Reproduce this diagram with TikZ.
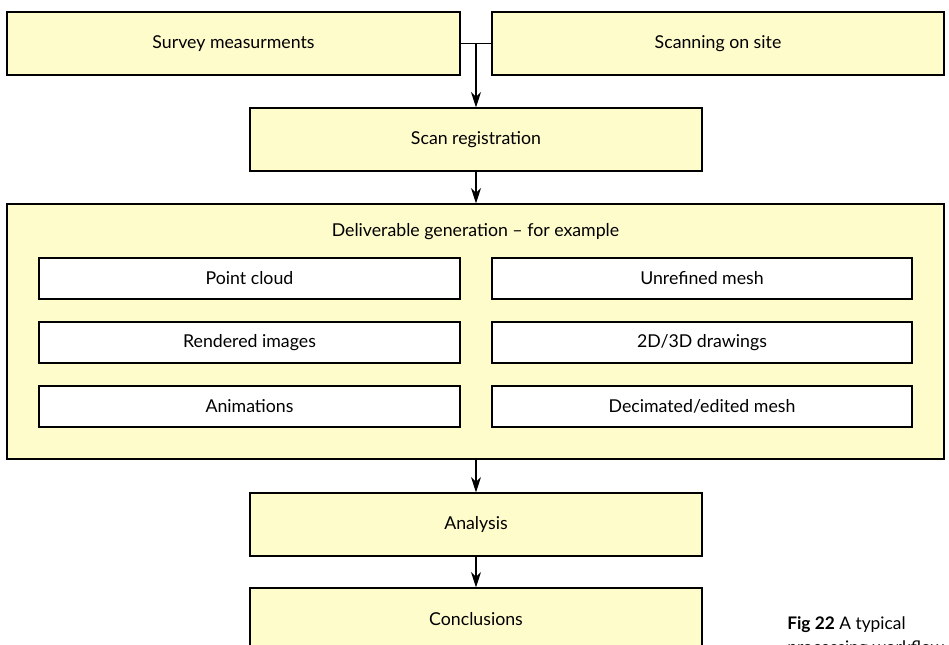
\documentclass[tikz,border=0pt]{standalone}
\usepackage{fontspec}
\setmainfont{Lato}
\usepackage{tikz}
\usetikzlibrary{calc,arrows.meta}

\definecolor{paleyellow}{RGB}{255,252,204}

\tikzset{
	stagebox/.style={draw=black, line width=0.9pt, fill=paleyellow, minimum height=47.25pt, inner sep=0pt, font=\fontsize{13.3}{16}\selectfont},
	itembox/.style={draw=black, line width=0.9pt, fill=white, minimum height=30.75pt, inner sep=0pt, font=\fontsize{13.3}{16}\selectfont},
	flow/.style={line width=0.9pt, -{Stealth[length=11.5pt, width=7.5pt, inset=3.5pt]}}
}

\begin{document}
\begin{tikzpicture}[x=0.75pt, y=-0.75pt]
			\useasboundingbox (0,0) rectangle (949,644);
			\clip (0,0) rectangle (949,644);
			%draw top row
			\node[stagebox, minimum width=339.75pt] (survey) at (233.5,43.5) {Survey measurments};
			\node[stagebox, minimum width=339pt] (scanning) at (718,43.5) {Scanning on site};
			\node[stagebox, minimum width=339pt] (registration) at (476,139.5) {Scan registration};
			%draw deliverables box
			\node[stagebox, minimum width=702.75pt, minimum height=191.25pt] (deliverable) at (475.5,331.5) {};
			\node[font=\fontsize{13.3}{16}\selectfont] (delivtitle) at (475.5,232) {Deliverable generation -- for example};
			\node[itembox, minimum width=315.75pt] (pointcloud) at (249.5,278.5) {Point cloud};
			\node[itembox, minimum width=315pt] (mesh) at (702,278.5) {Unrefined mesh};
			\node[itembox, minimum width=315.75pt] (rendered) at (249.5,342.5) {Rendered images};
			\node[itembox, minimum width=315pt] (drawings) at (702,342.5) {2D/3D drawings};
			\node[itembox, minimum width=315.75pt] (animations) at (249.5,406.5) {Animations};
			\node[itembox, minimum width=315pt] (decimated) at (702,406.5) {Decimated/edited mesh};
			%draw bottom row
			\node[stagebox, minimum width=339pt] (analysis) at (476,524.5) {Analysis};
			\node[stagebox, minimum width=339pt] (conclusions) at (476,619.5) {Conclusions};
			%draw connectors
			\coordinate (join) at (registration.north |- survey.east);
			\draw[line width=0.9pt] (survey.east) -- (scanning.west);
			\draw[flow] (join) -- (registration.north);
			\draw[flow] (registration.south) -- (deliverable.north -| registration.south);
			\draw[flow] (deliverable.south -| analysis.north) -- (analysis.north);
			\draw[flow] (analysis.south) -- (conclusions.north);
			%draw caption
			\node[anchor=north west, align=left, inner sep=0pt, font=\fontsize{13}{18}\selectfont] (caption) at (787,616) {\textbf{Fig 22} A typical\\processing workflow};
\end{tikzpicture}
\end{document}
